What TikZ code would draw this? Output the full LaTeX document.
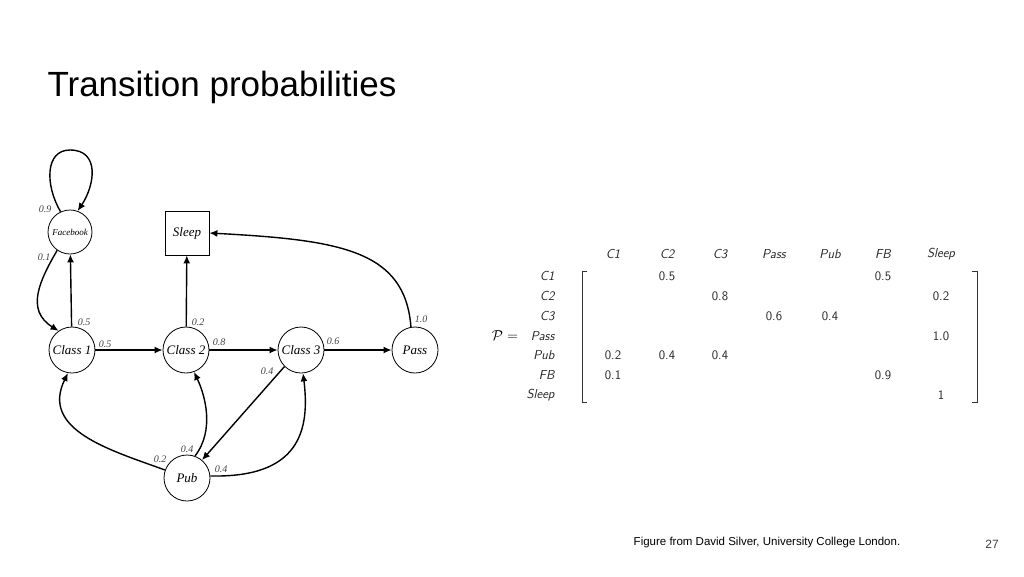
\documentclass[tikz,border=0pt]{standalone}
\usepackage{fontspec}
\setmainfont{Liberation Serif}
\newfontfamily\titlefont{Liberation Sans}
\usetikzlibrary{arrows.meta}
\begin{document}
\begin{tikzpicture}[x=1pt,y=-1pt,
  st/.style={circle,draw,line width=0.8pt,minimum size=46pt,inner sep=0pt,font=\fontsize{13}{13}\selectfont\itshape},
  ed/.style={line width=1.4pt,-{Latex[length=8pt,width=7pt]}},
  pl/.style={font=\fontsize{10}{10}\selectfont\itshape,text=black!75},
  mt/.style={font=\fontsize{13}{13}\selectfont\sffamily,text=black!85},
  mh/.style={font=\fontsize{13}{13}\selectfont\sffamily\itshape,text=black!85}]
\useasboundingbox (0,0) rectangle (1024,576);
\node[anchor=west,font=\fontsize{35}{35}\selectfont\titlefont] (title) at (44,87) {Transition probabilities};
% graph nodes
\node[st,minimum size=44pt,font=\fontsize{9}{9}\selectfont\itshape] (fb) at (70,232) {Facebook};
\node[draw,line width=0.8pt,minimum size=44pt,inner sep=0pt,font=\fontsize{13}{13}\selectfont\itshape] (sl) at (187,233) {Sleep};
\node[st] (c1) at (72,350) {Class 1};
\node[st] (c2) at (186,350) {Class 2};
\node[st] (c3) at (301,350) {Class 3};
\node[st] (pa) at (415,350) {Pass};
\node[st] (pub) at (187,478) {Pub};
% edges
\draw[ed] (fb.115) .. controls (45,185) and (45,150) .. (70,150) .. controls (100,150) and (95,185) .. (fb.70);
\draw[ed] (fb.235) .. controls (40,280) and (25,310) .. (c1.125);
\draw[ed] (c1) -- (fb);
\draw[ed] (c1) -- (c2);
\draw[ed] (c2) -- (sl);
\draw[ed] (c2) -- (c3);
\draw[ed] (c3) -- (pa);
\draw[ed] (pa.100) .. controls (405,250) and (340,240) .. (sl.east);
\draw[ed] (c3.225) -- (pub.50);
\draw[ed] (pub.160) .. controls (110,450) and (40,430) .. (c1.260);
\draw[ed] (pub.70) .. controls (215,430) and (205,395) .. (c2.290);
\draw[ed] (pub.5) .. controls (300,478) and (310,430) .. (c3.275);
% edge labels
\node[pl] (l1) at (45,209) {0.9};
\node[pl] (l2) at (44,257) {0.1};
\node[pl] (l3) at (84,322) {0.5};
\node[pl] (l4) at (105,344) {0.5};
\node[pl] (l5) at (198,322) {0.2};
\node[pl] (l6) at (219,342) {0.8};
\node[pl] (l7) at (333,341) {0.6};
\node[pl] (l8) at (421,319) {1.0};
\node[pl] (l9) at (267,371) {0.4};
\node[pl] (l10) at (160,459) {0.2};
\node[pl] (l11) at (187,449) {0.4};
\node[pl] (l12) at (221,469) {0.4};
% matrix
\node[font=\fontsize{15}{15}\selectfont] (P) at (505,336) {$\mathcal{P} =$};
\foreach \n/\x/\t in {h1/613/C1,h2/667/C2,h3/720/C3,h4/774/Pass,h5/830/Pub,h6/883/FB,h7/941/Sleep}
  \node[mh] (\n) at (\x,254) {\t};
\foreach \n/\y/\t in {r1/276/C1,r2/296/C2,r3/316/C3,r4/336/Pass,r5/355/Pub,r6/375/FB,r7/395/Sleep}
  \node[mh,anchor=east] (\n) at (558,\y) {\t};
\foreach \n/\x/\y/\t in {a/667/276/0.5,b/883/276/0.5,c/720/296/0.8,d/941/296/0.2,e/774/316/0.6,f/830/316/0.4,g/941/336/1.0,h/613/355/0.2,i/667/355/0.4,j/720/355/0.4,k/613/375/0.1,m/883/375/0.9,n/941/395/1}
  \node[mt] (v\n) at (\x,\y) {\t};
\draw[line width=1pt,black!80] (587,271) -- (582,271) -- (582,402) -- (587,402);
\draw[line width=1pt,black!80] (972,271) -- (977,271) -- (977,402) -- (972,402);
% footer
\node[font=\fontsize{11.5}{12}\selectfont\titlefont] (foot) at (767,543) {Figure from David Silver, University College London.};
\node[font=\fontsize{12}{12}\selectfont\titlefont,text=black!75] (pg) at (992,544) {27};
\end{tikzpicture}
\end{document}
